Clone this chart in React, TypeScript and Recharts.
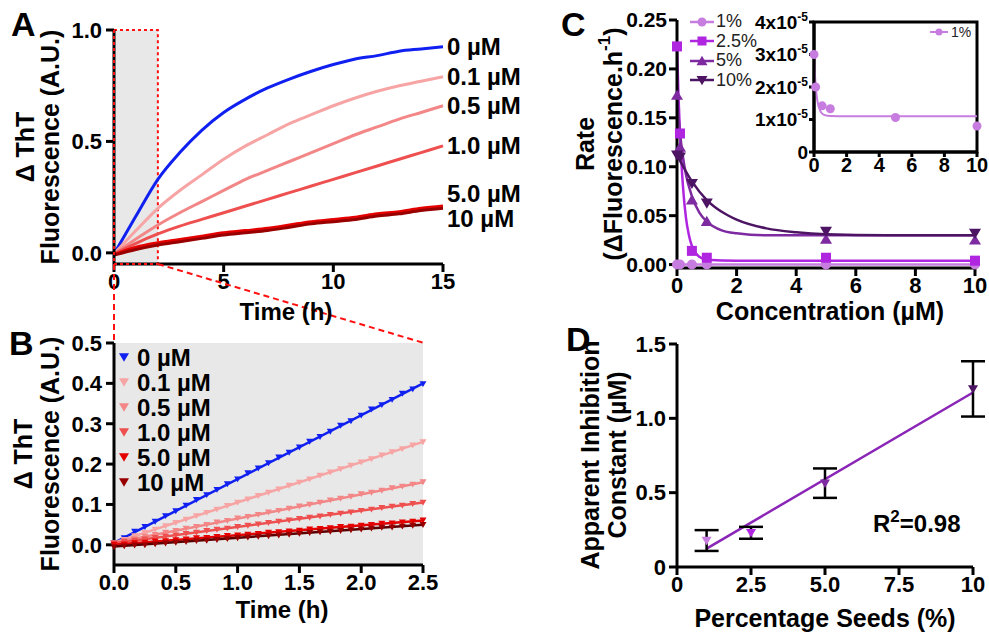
import React from "react";
import {
  LineChart,
  Line,
  ComposedChart,
  Scatter,
  XAxis,
  YAxis,
  ReferenceArea,
  CartesianGrid,
  Legend,
  ErrorBar,
  Cell,
} from "recharts";

const FONT = "'Liberation Sans', Arial, Helvetica, sans-serif";

// ---------- A: ThT kinetics, every hour ----------
const hoursA = [0, 1, 2, 3, 4, 5, 6, 7, 8, 9, 10, 11, 12, 13, 14, 15];
const tht0 = [-0.005, 0.165, 0.33, 0.45, 0.55, 0.63, 0.69, 0.74, 0.78, 0.815, 0.845, 0.87, 0.885, 0.905, 0.915, 0.925];
const tht01 = [-0.005, 0.1, 0.2, 0.28, 0.35, 0.42, 0.48, 0.53, 0.58, 0.62, 0.66, 0.695, 0.725, 0.75, 0.77, 0.79];
const tht05 = [-0.005, 0.062, 0.125, 0.18, 0.23, 0.28, 0.33, 0.37, 0.41, 0.45, 0.49, 0.53, 0.565, 0.6, 0.63, 0.66];
const tht10 = [-0.005, 0.043, 0.085, 0.12, 0.15, 0.18, 0.21, 0.24, 0.27, 0.3, 0.33, 0.36, 0.39, 0.42, 0.45, 0.48];
const tht50 = [-0.008, 0.025, 0.045, 0.06, 0.075, 0.09, 0.1, 0.11, 0.125, 0.14, 0.15, 0.16, 0.175, 0.185, 0.2, 0.21];
const tht100 = [-0.01, 0.015, 0.035, 0.05, 0.065, 0.08, 0.09, 0.1, 0.115, 0.13, 0.14, 0.15, 0.165, 0.175, 0.19, 0.2];
const thtA = [tht0, tht01, tht05, tht10, tht50, tht100];

const concNames = ["0 µM", "0.1 µM", "0.5 µM", "1.0 µM", "5.0 µM", "10 µM"];
const concColors = ["#1020f0", "#f7a4a4", "#f38686", "#ee5050", "#e50000", "#980000"];

// ---------- B: first 2.5 h, one point every 5 min ----------
const hoursB = [
  0, 0.083, 0.167, 0.25, 0.333, 0.417, 0.5, 0.583, 0.667, 0.75, 0.833, 0.917, 1.0, 1.083, 1.167, 1.25,
  1.333, 1.417, 1.5, 1.583, 1.667, 1.75, 1.833, 1.917, 2.0, 2.083, 2.167, 2.25, 2.333, 2.417, 2.5,
];
const early0 = [
  0.005, 0.017, 0.033, 0.045, 0.058, 0.072, 0.084, 0.098, 0.112, 0.124, 0.137, 0.151, 0.163, 0.178, 0.19, 0.203,
  0.217, 0.229, 0.242, 0.256, 0.268, 0.281, 0.296, 0.307, 0.321, 0.336, 0.347, 0.36, 0.375, 0.386, 0.399,
];
const early01 = [
  0.004, 0.013, 0.022, 0.03, 0.038, 0.047, 0.055, 0.063, 0.072, 0.08, 0.088, 0.097, 0.105, 0.113, 0.122, 0.13,
  0.138, 0.147, 0.155, 0.163, 0.172, 0.18, 0.188, 0.197, 0.205, 0.213, 0.222, 0.23, 0.238, 0.247, 0.255,
];
const early05 = [
  0.004, 0.011, 0.015, 0.021, 0.025, 0.031, 0.035, 0.041, 0.045, 0.05, 0.056, 0.06, 0.066, 0.07, 0.075, 0.081,
  0.085, 0.09, 0.096, 0.1, 0.105, 0.111, 0.115, 0.12, 0.126, 0.13, 0.135, 0.141, 0.145, 0.15, 0.156,
];
const early10 = [
  0.004, 0.008, 0.011, 0.014, 0.018, 0.021, 0.024, 0.028, 0.031, 0.035, 0.038, 0.041, 0.045, 0.048, 0.051, 0.055,
  0.058, 0.061, 0.065, 0.068, 0.071, 0.075, 0.078, 0.081, 0.085, 0.088, 0.092, 0.095, 0.098, 0.102, 0.105,
];
const early50 = [
  0.001, 0.002, 0.005, 0.006, 0.009, 0.01, 0.012, 0.014, 0.017, 0.018, 0.02, 0.023, 0.024, 0.026, 0.028, 0.031,
  0.032, 0.034, 0.036, 0.039, 0.04, 0.042, 0.045, 0.046, 0.048, 0.05, 0.053, 0.054, 0.056, 0.058, 0.061,
];
const early100 = [
  -0.005, -0.003, -0.001, 0.0, 0.002, 0.004, 0.006, 0.008, 0.01, 0.011, 0.013, 0.015, 0.017, 0.019, 0.021, 0.022,
  0.024, 0.026, 0.028, 0.03, 0.032, 0.033, 0.035, 0.037, 0.039, 0.041, 0.043, 0.044, 0.046, 0.048, 0.05,
];
const earlyB = [early0, early01, early05, early10, early50, early100];
// linear fits, value at 0 h and at 2.5 h
const fitStartB = [0.005, 0.005, 0.005, 0.004, 0.0, -0.004];
const fitEndB = [0.4, 0.255, 0.155, 0.105, 0.06, 0.05];

// ---------- C: rate vs inhibitor concentration ----------
const concC = [0, 0.1, 0.5, 1, 5, 10];
const rate1 = [3.0e-5, 2.0e-5, 1.42e-5, 1.33e-5, 1.06e-5, 0.8e-5];
const rate25 = [0.223, 0.134, 0.014, 0.007, 0.007, 0.004];
const rate5 = [0.173, 0.12, 0.066, 0.044, 0.026, 0.025];
const rate10 = [0.112, 0.11, 0.083, 0.063, 0.034, 0.032];
const ratesC = [rate1, rate25, rate5, rate10];
const seedNames = ["1%", "2.5%", "5%", "10%"];
const seedColors = ["#c77ddf", "#b026e0", "#7e2aa0", "#4c1463"];

// fitted decay curves
const fit1x = [0, 0.05, 0.1, 0.2, 0.3, 0.5, 0.75, 1, 2, 5, 10];
const fit1y = [3.0e-5, 2.45e-5, 2.05e-5, 1.6e-5, 1.38e-5, 1.18e-5, 1.12e-5, 1.11e-5, 1.1e-5, 1.1e-5, 1.1e-5];
const fit25x = [0, 0.05, 0.1, 0.2, 0.3, 0.4, 0.5, 0.75, 1, 2, 5, 10];
const fit25y = [0.225, 0.172, 0.134, 0.08, 0.048, 0.03, 0.019, 0.008, 0.005, 0.004, 0.004, 0.004];
const fit5x = [0, 0.1, 0.2, 0.3, 0.5, 0.75, 1, 1.5, 2, 3, 5, 10];
const fit5y = [0.172, 0.135, 0.11, 0.092, 0.07, 0.053, 0.044, 0.035, 0.032, 0.03, 0.03, 0.03];
const fit10x = [0, 0.5, 1, 1.5, 2, 3, 4, 5, 7, 10];
const fit10y = [0.112, 0.085, 0.066, 0.054, 0.046, 0.037, 0.033, 0.031, 0.03, 0.03];
const fitsC = [
  [fit1x, fit1y],
  [fit25x, fit25y],
  [fit5x, fit5y],
  [fit10x, fit10y],
];

// ---------- D: apparent Ki vs seed percentage ----------
const seedPct = [1, 2.5, 5, 10];
const kiApp = [0.178, 0.23, 0.564, 1.198];
const kiErr = [0.07, 0.04, 0.099, 0.186];
const kiFitX = [1, 10];
const kiFitY = [0.124, 1.174];

const pts = (xs: number[], ys: number[]) => xs.map((x, i) => ({ x, y: ys[i] }));

const tableA = hoursA.map((t, i) => {
  const row: any = { t };
  thtA.forEach((s, k) => (row["s" + k] = s[i]));
  return row;
});

const axisLine = { stroke: "#000", strokeWidth: 3 };
const tickLine = { stroke: "#000", strokeWidth: 3 };
const tickStyle = { fill: "#000", fontSize: 22, fontWeight: 700, fontFamily: FONT };

function downTri(cx: number, cy: number, s: number, fill: string) {
  return <path d={`M${cx - s},${cy - s * 0.75} L${cx + s},${cy - s * 0.75} L${cx},${cy + s * 0.95} Z`} fill={fill} />;
}
function upTri(cx: number, cy: number, s: number, fill: string) {
  return <path d={`M${cx - s},${cy + s * 0.75} L${cx + s},${cy + s * 0.75} L${cx},${cy - s * 0.95} Z`} fill={fill} />;
}
function marker(kind: number, cx: number, cy: number, fill: string, s = 5) {
  if (kind === 0) return <circle cx={cx} cy={cy} r={s} fill={fill} />;
  if (kind === 1) return <rect x={cx - s} y={cy - s} width={s * 2} height={s * 2} fill={fill} />;
  if (kind === 2) return upTri(cx, cy, s + 1, fill);
  return downTri(cx, cy, s + 1, fill);
}

const endOffsets = [0, 0, 0, 0, -13, 10];

function PanelA() {
  const last = hoursA.length - 1;
  return (
    <div style={{ position: "absolute", left: 0, top: 0 }}>
      <LineChart width={560} height={330} data={tableA} margin={{ top: 30, right: 117, left: 54, bottom: 26 }}>
        <ReferenceArea
          x1={0}
          x2={2}
          y1={-0.05}
          y2={1}
          fill="#e8e8e8"
          fillOpacity={1}
          stroke="#ff1010"
          strokeWidth={2}
          strokeDasharray="3 3"
        />
        <XAxis
          type="number"
          dataKey="t"
          domain={[0, 15]}
          ticks={[0, 5, 10, 15]}
          height={40}
          tickSize={8}
          tickMargin={1}
          axisLine={axisLine}
          tickLine={tickLine}
          tick={tickStyle}
        />
        <YAxis
          type="number"
          domain={[-0.05, 1]}
          ticks={[0, 0.5, 1]}
          tickFormatter={(v: number) => v.toFixed(1)}
          width={60}
          tickSize={8}
          tickMargin={4}
          axisLine={axisLine}
          tickLine={tickLine}
          tick={tickStyle}
        />
        {thtA.map((_, k) => (
          <Line
            key={k}
            dataKey={"s" + k}
            type="monotone"
            stroke={concColors[k]}
            strokeWidth={3}
            dot={false}
            isAnimationActive={false}
            label={(p: any) => {
              if (p.index !== last) return null;
              const x = p.x ?? p.viewBox?.x;
              const y = p.y ?? p.viewBox?.y;
              return (
                <text
                  x={x + 4}
                  y={y + endOffsets[k]}
                  dominantBaseline="central"
                  fontSize={24}
                  fontWeight={700}
                  fontFamily={FONT}
                  fill="#000"
                >
                  {concNames[k]}
                </text>
              );
            }}
          />
        ))}
      </LineChart>
    </div>
  );
}

function PanelB() {
  return (
    <div style={{ position: "absolute", left: 0, top: 320 }}>
      <ComposedChart width={560} height={315} margin={{ top: 23, right: 137, left: 54, bottom: 25 }}>
        <CartesianGrid fill="#e8e8e8" fillOpacity={1} horizontal={false} vertical={false} />
        <XAxis
          type="number"
          dataKey="x"
          domain={[0, 2.5]}
          ticks={[0, 0.5, 1, 1.5, 2, 2.5]}
          tickFormatter={(v: number) => v.toFixed(1)}
          height={45}
          tickSize={8}
          tickMargin={1}
          axisLine={axisLine}
          tickLine={tickLine}
          tick={tickStyle}
        />
        <YAxis
          type="number"
          dataKey="y"
          domain={[-0.05, 0.5]}
          ticks={[0, 0.1, 0.2, 0.3, 0.4, 0.5]}
          tickFormatter={(v: number) => v.toFixed(1)}
          width={60}
          tickSize={8}
          tickMargin={4}
          axisLine={axisLine}
          tickLine={tickLine}
          tick={tickStyle}
        />
        {earlyB.map((s, k) => (
          <Line
            key={"f" + k}
            data={[
              { x: 0, y: fitStartB[k] },
              { x: 2.5, y: fitEndB[k] },
            ]}
            dataKey="y"
            stroke={k === 5 ? "#5a0000" : concColors[k]}
            strokeWidth={2.5}
            dot={false}
            legendType="none"
            isAnimationActive={false}
          />
        ))}
        {earlyB.map((s, k) => (
          <Scatter
            key={"s" + k}
            name={concNames[k]}
            data={pts(hoursB, s)}
            fill={concColors[k]}
            isAnimationActive={false}
            shape={(p: any) => downTri(p.cx, p.cy, 3.5, concColors[k])}
          />
        ))}
        <Legend
          layout="vertical"
          align="center"
          verticalAlign="middle"
          wrapperStyle={{ left: 117, top: 25, width: "auto" }}
          content={() => (
            <div style={{ fontFamily: FONT, fontWeight: 700, fontSize: 24, color: "#000" }}>
              {concNames.map((n, k) => (
                <div key={k} style={{ display: "flex", alignItems: "center", height: 25 }}>
                  <svg width={14} height={14} style={{ marginRight: 6 }}>
                    {downTri(7, 6, 5, concColors[k])}
                  </svg>
                  <span>{n}</span>
                </div>
              ))}
            </div>
          )}
        />
      </ComposedChart>
    </div>
  );
}

function PanelC() {
  return (
    <div style={{ position: "absolute", left: 560, top: 0 }}>
      <ComposedChart width={429} height={330} margin={{ top: 20, right: 14, left: 47, bottom: 22 }}>
        <XAxis
          type="number"
          dataKey="x"
          domain={[0, 10]}
          ticks={[0, 2, 4, 6, 8, 10]}
          height={40}
          tickSize={8}
          tickMargin={1}
          axisLine={axisLine}
          tickLine={tickLine}
          tick={tickStyle}
        />
        <YAxis
          type="number"
          dataKey="y"
          domain={[-0.0035, 0.25]}
          ticks={[0, 0.05, 0.1, 0.15, 0.2, 0.25]}
          tickFormatter={(v: number) => v.toFixed(2)}
          width={70}
          tickSize={8}
          tickMargin={2}
          axisLine={axisLine}
          tickLine={tickLine}
          tick={{ ...tickStyle, fontSize: 21 }}
        />
        {fitsC.map(([fx, fy], k) => (
          <Line
            key={"f" + k}
            data={pts(fx, fy)}
            dataKey="y"
            type="monotone"
            stroke={seedColors[k]}
            strokeWidth={2.5}
            dot={false}
            legendType="none"
            isAnimationActive={false}
          />
        ))}
        {ratesC.map((r, k) => (
          <Scatter
            key={"s" + k}
            name={seedNames[k]}
            data={pts(concC, r)}
            fill={seedColors[k]}
            isAnimationActive={false}
            shape={(p: any) => marker(k, p.cx, p.cy, seedColors[k], 5)}
          />
        ))}
        <Legend
          layout="vertical"
          align="center"
          verticalAlign="middle"
          wrapperStyle={{ left: 130, top: 12, width: "auto" }}
          content={() => (
            <div style={{ fontFamily: FONT, fontSize: 18, color: "#222" }}>
              {seedNames.map((n, k) => (
                <div key={k} style={{ display: "flex", alignItems: "center", height: 19.5 }}>
                  <svg width={24} height={14} style={{ marginRight: 2 }}>
                    <line x1={0} y1={7} x2={24} y2={7} stroke={seedColors[k]} strokeWidth={2.5} />
                    {marker(k, 12, 7, seedColors[k], 4.5)}
                  </svg>
                  <span>{n}</span>
                </div>
              ))}
            </div>
          )}
        />
      </ComposedChart>
    </div>
  );
}

function SciTick(props: any) {
  const { x, y, payload } = props;
  const v = payload.value;
  const common = {
    x,
    y,
    dy: "0.36em",
    textAnchor: "end" as const,
    fontSize: 19,
    fontWeight: 700,
    fontFamily: FONT,
    fill: "#000",
  };
  if (v === 0) return <text {...common}>0</text>;
  const m = Math.round(v / 1e-5);
  return (
    <text {...common}>
      {`${m}x10`}
      <tspan dy={-8} fontSize={12}>
        -5
      </tspan>
    </text>
  );
}

function PanelInset() {
  return (
    <div style={{ position: "absolute", left: 730, top: 10 }}>
      <ComposedChart width={259} height={175} margin={{ top: 12, right: 12, left: 24, bottom: 8 }}>
        <ReferenceArea x1={0} x2={10} y1={0} y2={4e-5} fill="#fff" fillOpacity={0} stroke="#000" strokeWidth={3} />
        <XAxis
          type="number"
          dataKey="x"
          domain={[0, 10]}
          ticks={[0, 2, 4, 6, 8, 10]}
          height={25}
          tickSize={5}
          tickMargin={1}
          axisLine={axisLine}
          tickLine={tickLine}
          tick={{ ...tickStyle, fontSize: 20 }}
        />
        <YAxis
          type="number"
          dataKey="y"
          domain={[0, 4e-5]}
          ticks={[0, 1e-5, 2e-5, 3e-5, 4e-5]}
          width={60}
          tickSize={5}
          tickMargin={1}
          axisLine={axisLine}
          tickLine={tickLine}
          tick={SciTick}
        />
        <Line
          data={pts(fit1x, fit1y)}
          dataKey="y"
          type="monotone"
          stroke={seedColors[0]}
          strokeWidth={2}
          dot={false}
          legendType="none"
          isAnimationActive={false}
        />
        <Scatter
          name={seedNames[0]}
          data={pts(concC, rate1)}
          fill={seedColors[0]}
          isAnimationActive={false}
          shape={(p: any) => marker(0, p.cx, p.cy, seedColors[0], 4.5)}
        />
        <Legend
          layout="vertical"
          align="center"
          verticalAlign="middle"
          wrapperStyle={{ left: 200, top: 14, width: "auto" }}
          content={() => (
            <div style={{ fontFamily: FONT, fontSize: 14, color: "#222", display: "flex", alignItems: "center", height: 16 }}>
              <svg width={18} height={12} style={{ marginRight: 3 }}>
                <line x1={0} y1={6} x2={18} y2={6} stroke={seedColors[0]} strokeWidth={2} />
                {marker(0, 9, 6, seedColors[0], 3.5)}
              </svg>
              <span>{seedNames[0]}</span>
            </div>
          )}
        />
      </ComposedChart>
    </div>
  );
}

function PanelD() {
  const dataD = seedPct.map((x, i) => ({ x, y: kiApp[i], e: kiErr[i] }));
  return (
    <div style={{ position: "absolute", left: 560, top: 320 }}>
      <ComposedChart width={429} height={315} margin={{ top: 24, right: 16, left: 47, bottom: 23 }}>
        <XAxis
          type="number"
          dataKey="x"
          domain={[0, 10]}
          ticks={[0, 2.5, 5, 7.5, 10]}
          tickFormatter={(v: number) => (v === 0 || v === 10 ? String(v) : v.toFixed(1))}
          height={45}
          tickSize={8}
          tickMargin={1}
          axisLine={axisLine}
          tickLine={tickLine}
          tick={tickStyle}
        />
        <YAxis
          type="number"
          dataKey="y"
          domain={[0, 1.5]}
          ticks={[0, 0.5, 1, 1.5]}
          tickFormatter={(v: number) => (v === 0 ? "0" : v.toFixed(1))}
          width={70}
          tickSize={8}
          tickMargin={3}
          axisLine={axisLine}
          tickLine={tickLine}
          tick={tickStyle}
        />
        <Line
          data={pts(kiFitX, kiFitY)}
          dataKey="y"
          stroke="#8a25b8"
          strokeWidth={2.5}
          dot={false}
          legendType="none"
          isAnimationActive={false}
        />
        <Scatter
          data={dataD}
          isAnimationActive={false}
          shape={(p: any) => downTri(p.cx, p.cy, 5, p.fill)}
        >
          {dataD.map((_, i) => (
            <Cell key={i} fill={seedColors[i]} />
          ))}
          <ErrorBar dataKey="e" direction="y" width={12} stroke="#000" strokeWidth={2.5} />
        </Scatter>
      </ComposedChart>
    </div>
  );
}

// axis titles, panel letters, zoom guides and the R² note
function VTitle({ x, y, size = 25, children }: { x: number; y: number; size?: number; children: React.ReactNode }) {
  return (
    <text
      transform={`translate(${x},${y}) rotate(-90)`}
      x={0}
      y={0}
      textAnchor="middle"
      dominantBaseline="central"
      fontSize={size}
      fontWeight={700}
      fontFamily={FONT}
      fill="#000"
    >
      {children}
    </text>
  );
}
function HTitle({ x, y, size = 25, children }: { x: number; y: number; size?: number; children: React.ReactNode }) {
  return (
    <text x={x} y={y} textAnchor="middle" dominantBaseline="central" fontSize={size} fontWeight={700} fontFamily={FONT} fill="#000">
      {children}
    </text>
  );
}

function Overlay() {
  const letter = { fontSize: 34, fontWeight: 700, fontFamily: FONT, fill: "#000" };
  const red = { stroke: "#ff1010", strokeWidth: 2 };
  return (
    <svg width={989} height={635} style={{ position: "absolute", left: 0, top: 0, pointerEvents: "none" }}>
      <line x1={114} y1={30} x2={114} y2={264} {...red} strokeDasharray="3 3" />
      <line x1={114} y1={264} x2={158} y2={264} {...red} strokeDasharray="3 3" />
      <line x1={114} y1={264} x2={114} y2={343} {...red} strokeDasharray="6 4" />
      <line x1={158} y1={264} x2={424} y2={343} {...red} strokeDasharray="6 4" />

      <VTitle x={25} y={147}>Δ ThT</VTitle>
      <VTitle x={50} y={147}>Fluorescence (A.U.)</VTitle>
      <HTitle x={286} y={311} size={24}>Time (h)</HTitle>

      <VTitle x={23} y={454}>Δ ThT</VTitle>
      <VTitle x={50} y={454}>Fluorescence (A.U.)</VTitle>
      <HTitle x={282} y={609} size={24}>Time (h)</HTitle>

      <VTitle x={585} y={144}>Rate</VTitle>
      <VTitle x={613} y={144}>
        (ΔFluorescence.h<tspan dy={-9} fontSize={17}>-1</tspan>
        <tspan dy={9}>)</tspan>
      </VTitle>
      <HTitle x={830} y={311}>Concentration (µM)</HTitle>

      <VTitle x={590} y={455}>Apparent Inhibition</VTitle>
      <VTitle x={617} y={455}>Constant (µM)</VTitle>
      <HTitle x={825} y={618}>Percentage Seeds (%)</HTitle>

      <text x={11} y={36} {...letter}>A</text>
      <text x={9} y={355} {...letter}>B</text>
      <text x={561} y={36} {...letter}>C</text>
      <text x={566} y={351} {...letter}>D</text>
      <text x={873} y={532} fontSize={24} fontWeight={700} fontFamily={FONT} fill="#000">
        R<tspan dy={-10} fontSize={17}>2</tspan>
        <tspan dy={10}>=0.98</tspan>
      </text>
    </svg>
  );
}

export default function App() {
  return (
    <div
      style={{
        position: "absolute",
        left: 0,
        top: 0,
        width: 989,
        height: 635,
        background: "#fff",
        fontFamily: FONT,
        overflow: "hidden",
      }}
    >
      <PanelA />
      <PanelB />
      <PanelC />
      <PanelInset />
      <PanelD />
      <Overlay />
    </div>
  );
}
